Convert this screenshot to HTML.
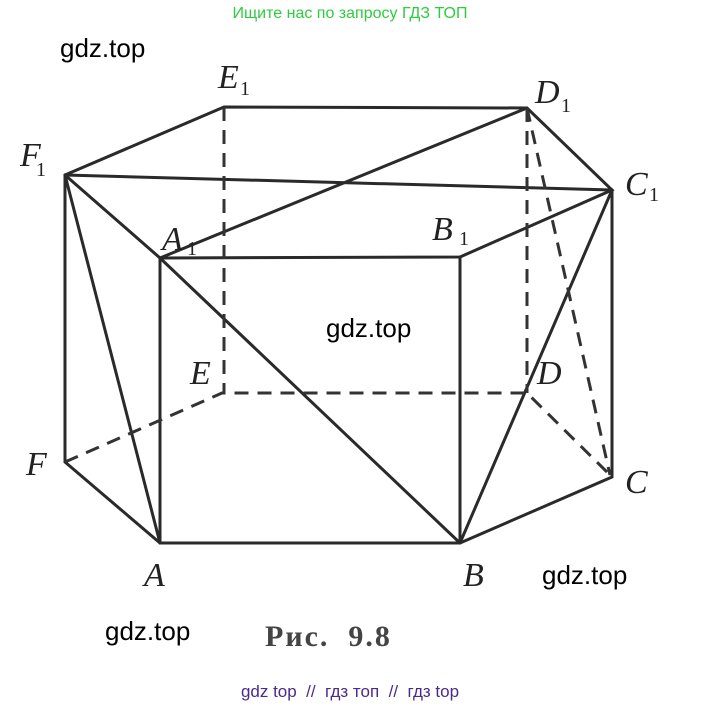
<!DOCTYPE html>
<html><head><meta charset="utf-8"><style>
html,body{margin:0;padding:0;background:#fff;width:701px;height:707px;overflow:hidden}
svg{display:block}
.s{font-family:"Liberation Sans",sans-serif}
.l{font-family:"Liberation Serif",serif;font-style:italic;font-size:34px;fill:#222}
.sub{font-family:"Liberation Serif",serif;font-size:20px;fill:#222}
</style></head><body>
<svg width="701" height="707" viewBox="0 0 701 707">
<g stroke="#2a2a2a" stroke-width="3" fill="none" stroke-linecap="round">
<polyline points="65,175 224,107 527,108 612,190 460,257 160,258 65,175"/>
<line x1="65" y1="175" x2="612" y2="190"/>
<line x1="160" y1="258" x2="527" y2="108"/>
<line x1="65" y1="175" x2="65" y2="462"/>
<line x1="65" y1="175" x2="160" y2="543"/>
<line x1="160" y1="258" x2="160" y2="543"/>
<line x1="460" y1="257" x2="460" y2="543"/>
<line x1="612" y1="190" x2="612" y2="477"/>
<line x1="160" y1="258" x2="460" y2="543"/>
<line x1="612" y1="190" x2="460" y2="543"/>
<polyline points="65,462 160,543 460,543 612,477"/>
</g>
<g stroke="#333" stroke-width="3" fill="none" stroke-dasharray="14,9">
<line x1="224" y1="107" x2="224" y2="393"/>
<line x1="527" y1="108" x2="527" y2="393"/>
<polyline points="65,462 222,393 527,393 612,477"/>
<line x1="527" y1="108" x2="610" y2="475"/>
</g>
<text x="218" y="88" class="l">E</text><text x="240" y="95" class="sub">1</text>
<text x="535" y="103" class="l">D</text><text x="561" y="112" class="sub">1</text>
<text x="20" y="166" class="l">F</text><text x="36" y="176" class="sub">1</text>
<text x="625" y="195" class="l">C</text><text x="649" y="201" class="sub">1</text>
<text x="162" y="250" class="l">A</text><text x="187" y="255" class="sub">1</text>
<text x="432" y="240" class="l">B</text><text x="459" y="245" class="sub">1</text>
<text x="190" y="384" class="l">E</text>
<text x="537" y="384" class="l">D</text>
<text x="26" y="475" class="l">F</text>
<text x="625" y="493" class="l">C</text>
<text x="144" y="586" class="l">A</text>
<text x="463" y="586" class="l">B</text>
<text x="265" y="646" font-family="Liberation Serif,serif" font-weight="bold" font-size="30" letter-spacing="2" fill="#444" xml:space="preserve">Рис.  9.8</text>
<text x="350" y="18" text-anchor="middle" class="s" font-size="16" fill="#2ecc40">Ищите нас по запросу ГДЗ ТОП</text>
<text x="60" y="57" class="s" font-size="26" fill="#000">gdz.top</text>
<text x="326" y="337" class="s" font-size="26" fill="#000">gdz.top</text>
<text x="542" y="584" class="s" font-size="26" fill="#000">gdz.top</text>
<text x="105" y="640" class="s" font-size="26" fill="#000">gdz.top</text>
<text x="350" y="697" text-anchor="middle" class="s" font-size="17" fill="#4b2a8a" xml:space="preserve">gdz top  //  гдз топ  //  гдз top</text>
</svg>
</body></html>
